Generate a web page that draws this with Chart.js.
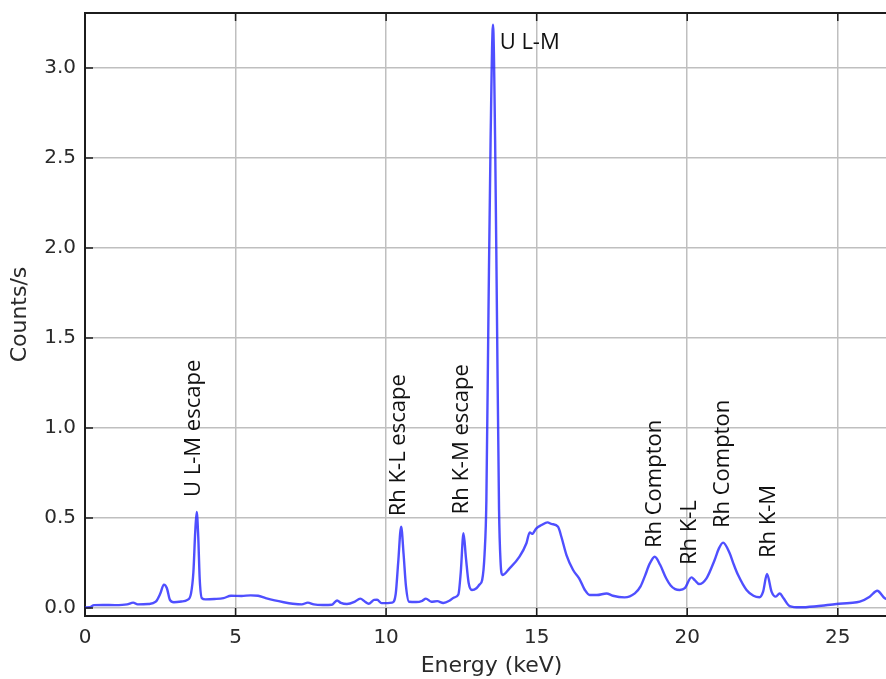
<!DOCTYPE html>
<html><head><meta charset="utf-8">
<script src="https://cdn.jsdelivr.net/npm/chart.js@4/dist/chart.umd.min.js"></script>
<style>html,body{margin:0;padding:0;overflow:hidden;background:#fff}canvas{display:block}</style>
</head><body>
<canvas id="c" width="898" height="679" style="width:898px;height:679px"></canvas>
<script>
// Energy axis (keV)
const energy = [
 0.00,0.15,0.30,0.60,1.00,1.40,1.60,1.75,2.10,2.35,2.50,2.62,2.72,2.82,2.95,3.20,3.40,3.52,3.60,3.66,3.71,3.76,3.81,3.88,
 4.00,4.30,4.60,4.85,5.20,5.50,5.75,6.00,6.30,6.60,6.90,7.20,7.40,7.60,7.90,8.20,8.37,8.50,8.70,8.95,9.14,9.30,9.42,9.60,9.70,9.85,
 10.20,10.32,10.40,10.50,10.58,10.66,10.76,11.00,11.20,11.32,11.50,11.70,11.90,12.10,12.25,12.40,12.48,12.57,12.65,12.74,12.85,
 13.00,13.10,13.19,13.27,13.33,13.40,13.47,13.55,13.62,13.68,13.75,13.80,13.86,
 14.10,14.43,14.66,14.77,14.85,14.99,15.16,15.36,15.49,15.71,15.82,15.99,16.21,16.41,16.60,16.76,17.00,17.32,17.53,17.92,
 18.26,18.45,18.60,18.75,18.92,19.10,19.30,19.45,19.60,19.75,19.92,20.14,20.25,20.39,20.64,20.91,21.05,21.19,21.41,21.55,21.69,21.97,
 22.20,22.40,22.52,22.65,22.80,22.94,23.07,23.20,23.40,23.74,24.30,24.96,25.40,25.73,26.06,26.31,26.56,26.80,27.00
];
// Counts/s
const counts = [
 0.003,0.004,0.016,0.017,0.016,0.020,0.030,0.020,0.022,0.035,0.080,0.130,0.110,0.045,0.032,0.036,0.045,0.080,0.200,0.420,0.533,0.400,0.160,0.055,
 0.048,0.050,0.055,0.068,0.067,0.070,0.068,0.055,0.042,0.032,0.024,0.020,0.030,0.020,0.017,0.018,0.042,0.028,0.022,0.034,0.052,0.035,0.024,0.045,0.046,0.027,
 0.030,0.080,0.250,0.452,0.300,0.120,0.035,0.033,0.040,0.052,0.035,0.038,0.028,0.040,0.058,0.075,0.200,0.415,0.280,0.140,0.100,
 0.110,0.130,0.156,0.300,0.600,1.650,2.600,3.240,2.600,1.650,0.550,0.260,0.183,
 0.220,0.285,0.360,0.420,0.412,0.443,0.461,0.476,0.467,0.452,0.396,0.294,0.211,0.165,0.100,0.072,0.072,0.081,0.068,0.059,
 0.081,0.120,0.180,0.245,0.285,0.240,0.165,0.125,0.105,0.100,0.110,0.170,0.155,0.133,0.165,0.267,0.330,0.363,0.304,0.240,0.183,0.100,
 0.068,0.060,0.091,0.189,0.091,0.063,0.081,0.054,0.011,0.004,0.010,0.022,0.028,0.035,0.063,0.096,0.054,0.040,0.035
];
const xTicks = [0,5,10,15,20,25];
const yTicks = [0,0.5,1,1.5,2,2.5,3];
// Peak labels (anchored in data space)
const peakLabels  = ['U L-M escape','Rh K-L escape','Rh K-M escape','U L-M','Rh Compton','Rh K-L','Rh Compton','Rh K-M'];
const peakEnergy  = [3.62, 10.42, 12.51, 13.77, 18.92, 20.08, 21.18, 22.71];
const peakCounts  = [0.617, 0.51, 0.52, 3.14, 0.333, 0.239, 0.444, 0.278];
const peakVertical= [true, true, true, false, true, true, true, true];

const points = energy.map((e,i)=>({x:e,y:counts[i]}));
const AXIS = '#1c1c1c', TXT = '#2a2a2a';

const framePlugin = {
  id:'frame',
  afterDatasetsDraw(chart){
    const ctx = chart.ctx, xs = chart.scales.x, ys = chart.scales.y;
    ctx.save();
    ctx.fillStyle = '#111';
    ctx.font = '22px "Open Sans"';
    peakLabels.forEach((t,i)=>{
      const px = xs.getPixelForValue(peakEnergy[i]);
      const py = ys.getPixelForValue(peakCounts[i]);
      ctx.save();
      ctx.translate(px,py);
      if (peakVertical[i]) ctx.rotate(-Math.PI/2);
      ctx.textAlign='left'; ctx.textBaseline='middle';
      ctx.fillText(t,0,0);
      ctx.restore();
    });
    ctx.restore();
  },
  afterDraw(chart){
    const ctx = chart.ctx, a = chart.chartArea, xs = chart.scales.x, ys = chart.scales.y;
    ctx.save();
    ctx.strokeStyle = AXIS; ctx.lineWidth = 2;
    ctx.beginPath(); ctx.moveTo(a.left-1, a.top); ctx.lineTo(a.right, a.top); ctx.stroke();
    ctx.lineWidth = 1.5;
    ctx.beginPath();
    xTicks.forEach(v=>{
      const px = xs.getPixelForValue(v);
      ctx.moveTo(px, a.bottom); ctx.lineTo(px, a.bottom-8);
      ctx.moveTo(px, a.top); ctx.lineTo(px, a.top+8);
    });
    yTicks.forEach(v=>{
      const py = ys.getPixelForValue(v);
      ctx.moveTo(a.left, py); ctx.lineTo(a.left+8, py);
    });
    ctx.stroke();
    ctx.restore();
  }
};

new Chart(document.getElementById('c'), {
  type:'line',
  data:{datasets:[{
    data:points,
    borderColor:'rgba(40,40,255,0.82)',
    borderWidth:2.4,
    pointRadius:0,
    fill:false,
    cubicInterpolationMode:'monotone'
  }]},
  options:{
    responsive:false,
    devicePixelRatio:1,
    animation:false,
    plugins:{legend:{display:false},tooltip:{enabled:false}},
    layout:{padding:{top:13,left:0,right:0,bottom:0}},
    scales:{
      x:{
        type:'linear', min:0, max:27,
        afterBuildTicks:s=>{s.ticks = xTicks.map(v=>({value:v}));},
        afterFit:s=>{s.height = 63; s.paddingLeft = 0; s.paddingRight = 0;},
        grid:{color:'#bfbfbf', lineWidth:1.5, drawTicks:false},
        border:{display:true, color:AXIS, width:2},
        ticks:{padding:10, color:TXT, font:{family:'DejaVu Sans', size:20}, callback:v=>String(v), maxRotation:0},
        title:{display:true, text:'Energy (keV)', color:TXT, font:{family:'DejaVu Sans', size:22}, padding:{top:0,bottom:0}}
      },
      y:{
        type:'linear', min:-0.0444, max:3.3056,
        afterBuildTicks:s=>{s.ticks = yTicks.map(v=>({value:v}));},
        afterFit:s=>{s.width = 85; s.paddingTop = 0; s.paddingBottom = 0;},
        grid:{color:'#bfbfbf', lineWidth:1.5, drawTicks:false},
        border:{display:true, color:AXIS, width:2},
        ticks:{padding:9, color:TXT, font:{family:'DejaVu Sans', size:20}, callback:v=>Number(v).toFixed(1)},
        title:{display:true, text:'Counts/s', color:TXT, font:{family:'DejaVu Sans', size:22}, padding:{top:7,bottom:0}}
      }
    }
  },
  plugins:[framePlugin]
});
</script>
</body></html>
